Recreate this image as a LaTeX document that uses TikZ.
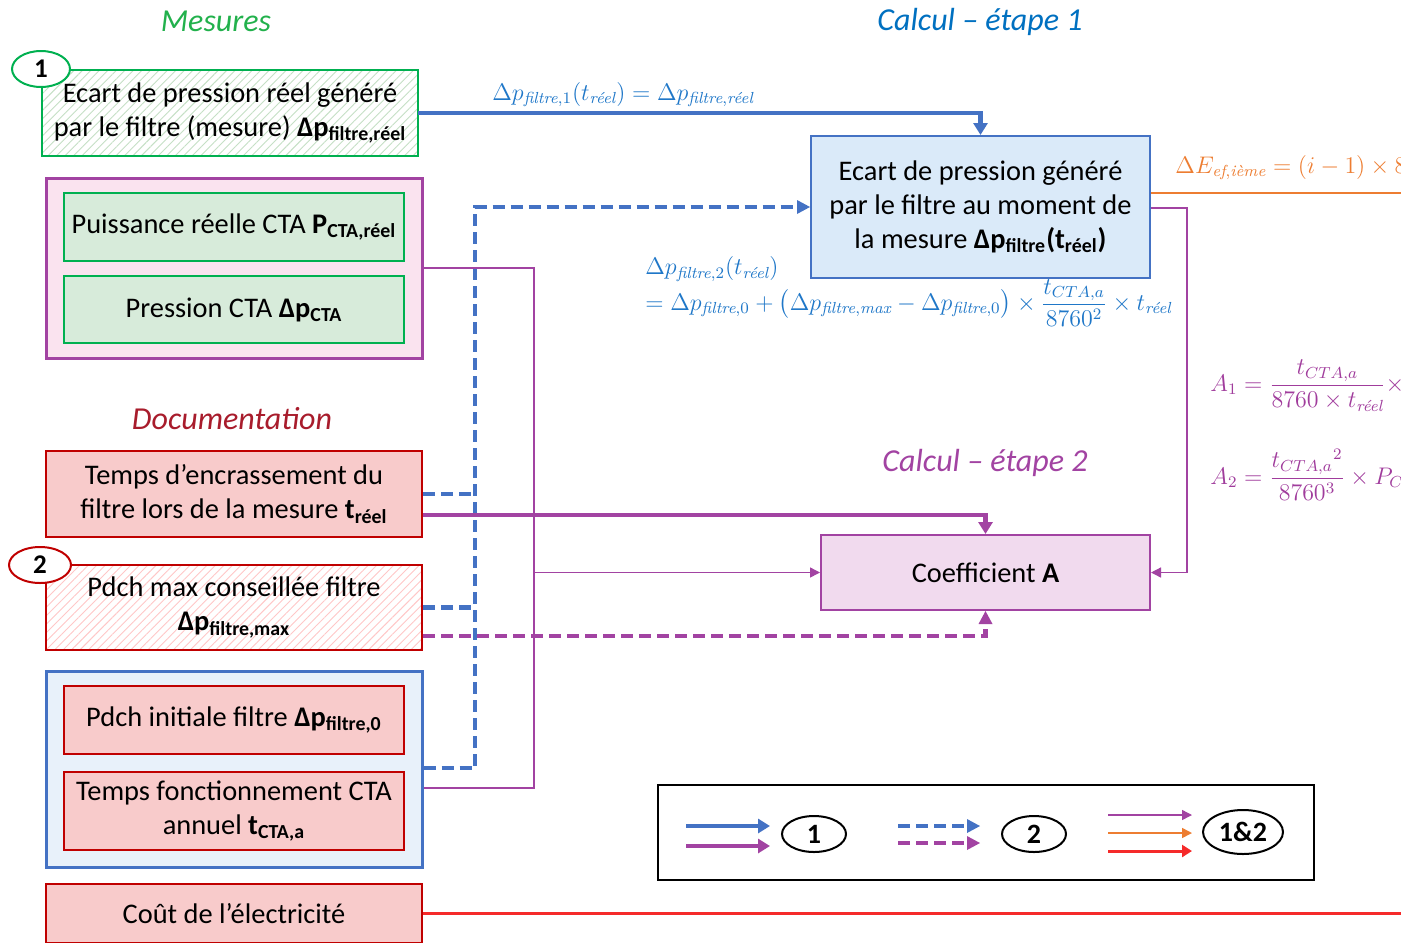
\documentclass[tikz,border=0pt]{standalone}
\usepackage{amsmath}
\usepackage[no-math]{fontspec}
\setmainfont{Carlito}
\usetikzlibrary{arrows.meta,shapes.geometric,patterns.meta,calc}

\definecolor{cblue}{HTML}{4472C4}
\definecolor{fblue}{HTML}{1F77C8}
\definecolor{tblue}{HTML}{0070C0}
\definecolor{cpurple}{HTML}{A243A2}
\definecolor{fpurple}{HTML}{A03C9C}
\definecolor{corange}{HTML}{ED7D31}
\definecolor{cred}{HTML}{F52A2A}
\definecolor{dred}{HTML}{A81C2C}
\definecolor{bred}{HTML}{C00000}
\definecolor{cgreen}{HTML}{00B050}
\definecolor{tgreen}{HTML}{22B14C}
\definecolor{fillred}{HTML}{F8CBCB}
\definecolor{fillgreen}{HTML}{D7EBDA}
\definecolor{fillpink}{HTML}{FAE3EF}
\definecolor{fillbluegrp}{HTML}{E8F1FA}
\definecolor{fillcalc}{HTML}{DAEAF9}
\definecolor{fillcoef}{HTML}{F1DAEE}

% italic words inside formulas (Latin Modern italic, accents included)
\newcommand{\ti}[1]{\text{\fontfamily{lmr}\selectfont\itshape #1}}

\tikzset{
  txt/.style={font=\fontsize{14.2}{17}\selectfont, align=center, text=black},
  box/.style={draw, line width=1pt, inner sep=0pt, txt},
  redbox/.style={box, draw=bred, fill=fillred},
  greenbox/.style={box, draw=cgreen, fill=fillgreen},
  titlefont/.style={font=\fontsize{16}{18}\selectfont\itshape},
  formula/.style={font=\fontsize{12}{14}\selectfont, inner sep=0pt},
  badge/.style={ellipse, draw, line width=1pt, fill=white, inner sep=0pt,
    font=\fontsize{13.5}{14}\selectfont\bfseries},
  legbadge/.style={ellipse, draw=black, line width=1pt, fill=white, inner sep=0pt,
    font=\fontsize{14}{15}\selectfont\bfseries},
  bigtip/.style={-{Triangle[length=6pt,width=7pt]}},
  smalltip/.style={-{Triangle[length=5pt,width=5pt]}},
  solidblue/.style={draw=cblue, line width=2.2pt, bigtip},
  dashblue/.style={draw=cblue, line width=2.2pt, dash pattern=on 6pt off 3pt},
  solidpurple/.style={draw=cpurple, line width=2.2pt, bigtip},
  dashpurple/.style={draw=cpurple, line width=2.2pt, dash pattern=on 6pt off 3pt},
  thinpurple/.style={draw=cpurple, line width=0.7pt},
  thinorange/.style={draw=corange, line width=0.8pt},
  redline/.style={draw=cred, line width=1.5pt},
}

\begin{document}
\begin{tikzpicture}[x=0.5pt,y=-0.5pt]
\useasboundingbox (0,0) rectangle (1401,942);
\clip (0,0) rectangle (1401,942);

% ---- section titles
\node[titlefont, text=tgreen] (tMes) at (216,21) {Mesures};
\node[titlefont, text=tblue] (tC1) at (980,22) {Calcul -- étape 1};
\node[titlefont, text=dred] (tDoc) at (232,419) {Documentation};
\node[titlefont, text=cpurple] (tC2) at (985,463) {Calcul -- étape 2};

% ---- measured inputs
\node[box, draw=cgreen, minimum width=188pt, minimum height=43pt,
  preaction={fill=white},
  pattern={Lines[angle=45,distance=3pt,line width=0.45pt]}, pattern color=green!30!gray!35]
  (m1) at (230,113) {Ecart de pression réel généré\\par le filtre (mesure) \textbf{Δp\textsubscript{filtre,réel}}};
\node[badge, draw=cgreen, minimum width=29pt, minimum height=18pt] (b1) at (41,69) {1};

\node[box, draw=cpurple, line width=1.5pt, fill=fillpink, minimum width=188pt, minimum height=90pt] (pg) at (234,268) {};
\node[greenbox, minimum width=170pt, minimum height=34pt] (pc) at (234,227) {Puissance réelle CTA \textbf{P\textsubscript{CTA,réel}}};
\node[greenbox, minimum width=170pt, minimum height=33.5pt] (dc) at (234,309.5) {Pression CTA \textbf{Δp\textsubscript{CTA}}};

% ---- documentation inputs
\node[redbox, minimum width=188pt, minimum height=43pt] (tr) at (234,494) {Temps d’encrassement du\\filtre lors de la mesure \textbf{t\textsubscript{réel}}};

\node[box, draw=bred, minimum width=188pt, minimum height=42.5pt,
  preaction={fill=white},
  pattern={Lines[angle=45,distance=3pt,line width=0.45pt]}, pattern color=red!22]
  (pm) at (234,607.5) {Pdch max conseillée filtre\\\textbf{Δp\textsubscript{filtre,max}}};
\node[badge, draw=bred, minimum width=31pt, minimum height=18pt] (b2) at (40,565) {2};

\node[box, draw=cblue, line width=1.5pt, fill=fillbluegrp, minimum width=188pt, minimum height=98pt] (bg) at (234,769) {};
\node[redbox, minimum width=170pt, minimum height=34pt] (pi) at (234,720) {Pdch initiale filtre \textbf{Δp\textsubscript{filtre,0}}};
\node[redbox, minimum width=170pt, minimum height=39pt] (tf) at (234,811) {Temps fonctionnement CTA\\annuel \textbf{t\textsubscript{CTA,a}}};

\node[redbox, minimum width=188pt, minimum height=29.5pt] (ce) at (234,913.5) {Coût de l’électricité};

% ---- calculation blocks
\node[box, draw=cblue, fill=fillcalc, minimum width=169.5pt, minimum height=71pt] (calc1) at (980.5,207)
  {Ecart de pression généré\\par le filtre au moment de\\la mesure \textbf{Δp\textsubscript{filtre}(t\textsubscript{réel})}};
\node[box, draw=cpurple, fill=fillcoef, minimum width=164.5pt, minimum height=37.5pt] (coef) at (985.5,572.5)
  {Coefficient \textbf{A}};

% ---- formulas
\node[formula, text=fblue, anchor=base west] (f1) at (492,100)
  {$\Delta p_{\ti{filtre},1}(t_{\ti{réel}}) = \Delta p_{\ti{filtre},\ti{réel}}$};
\node[formula, text=fblue, anchor=north west, align=left] (f2) at (645,256)
  {$\Delta p_{\ti{filtre},2}(t_{\ti{réel}})$\\[-2pt]
   $= \Delta p_{\ti{filtre},0} + \bigl(\Delta p_{\ti{filtre},\ti{max}} - \Delta p_{\ti{filtre},0}\bigr) \times \dfrac{t_{CTA,a}}{8760^2} \times t_{\ti{réel}}$};
\node[formula, text=corange, anchor=base west] (fE) at (1175,173)
  {$\Delta E_{\ti{ef},\ti{ième}} = (i-1)\times 8760$};
\node[formula, font=\fontsize{11.5}{13}\selectfont, text=fpurple, anchor=base west] (fA1) at (1210,391)
  {$A_1 = \dfrac{t_{CTA,a}}{8760\times t_{\ti{réel}}}\times$};
\node[formula, font=\fontsize{11.5}{13}\selectfont, text=fpurple, anchor=base west] (fA2) at (1210,484)
  {$A_2 = \dfrac{{t_{CTA,a}}^{2}}{8760^3}\times P_{CTA,\ti{réel}}$};

% ---- step 1 connectors
\draw[solidblue] (m1.east) -| (calc1.north);
\coordinate (jt) at (475,207);
\coordinate (jb) at (475,768);
\draw[dashblue] (bg.east |- jb) -- (jb) -- (jt) -- ([xshift=-5pt]calc1.west);
\draw[draw=none, fill=cblue] (calc1.west) -- ++(-13,-7) -- ++(0,14) -- cycle;
\draw[dashblue] (tr.east) -- (tr.east -| jt);
\draw[dashblue] (pm.east) -- (pm.east -| jt);

% ---- step 2 connectors
\draw[solidpurple] ($(tr.east)+(0,21)$) -| (coef.north);
\draw[dashpurple] ($(pm.east)+(0,28.5)$) -| ([yshift=-5pt]coef.south);
\draw[draw=none, fill=cpurple] (coef.south) -- ++(-7,13) -- ++(14,0) -- cycle;
\coordinate (pv) at (534,268);
\draw[thinpurple] (pg.east) -- (pv) -- (534,788) -- (bg.east |- 0,788);
\draw[thinpurple, smalltip] (534,572.5) -- (coef.west);
\draw[thinpurple, smalltip] (calc1.east |- 0,208) -- (1187,208) |- (coef.east);

% ---- energy / cost lines
\coordinate (eO) at (1401,193);
\draw[thinorange] (calc1.east |- eO) -- (eO);
\coordinate (eR) at (1401,913.5);
\draw[redline] (ce.east) -- (eR);

% ---- legend
\node[draw=black, line width=1pt, minimum width=328pt, minimum height=47.5pt, inner sep=0pt] (leg) at (986,832.5) {};
\coordinate (l1a) at (686,826); \coordinate (l1b) at (770,826);
\coordinate (l2a) at (686,846); \coordinate (l2b) at (770,846);
\draw[solidblue] (l1a) -- (l1b);
\draw[solidpurple] (l2a) -- (l2b);
\node[legbadge, minimum width=32pt, minimum height=18pt] (lb1) at (814,834) {1};

\coordinate (l3a) at (898,826); \coordinate (l3b) at (980,826);
\coordinate (l4a) at (898,843); \coordinate (l4b) at (980,843);
\draw[dashblue] (l3a) -- ([xshift=-5pt]l3b);
\draw[draw=none, fill=cblue] (l3b) -- ++(-13,-7) -- ++(0,14) -- cycle;
\draw[dashpurple] (l4a) -- ([xshift=-5pt]l4b);
\draw[draw=none, fill=cpurple] (l4b) -- ++(-13,-7) -- ++(0,14) -- cycle;
\node[legbadge, minimum width=32pt, minimum height=18pt] (lb2) at (1034,834) {2};

\coordinate (l5a) at (1108,815); \coordinate (l5b) at (1192,815);
\coordinate (l6a) at (1108,833); \coordinate (l6b) at (1192,833);
\coordinate (l7a) at (1108,851); \coordinate (l7b) at (1192,851);
\draw[thinpurple, smalltip] (l5a) -- (l5b);
\draw[thinorange, smalltip] (l6a) -- (l6b);
\draw[redline, -{Triangle[length=5pt,width=6pt]}] (l7a) -- (l7b);
\node[legbadge, minimum width=40pt, minimum height=22pt] (lb3) at (1243,832) {1\&2};
\end{tikzpicture}
\end{document}
